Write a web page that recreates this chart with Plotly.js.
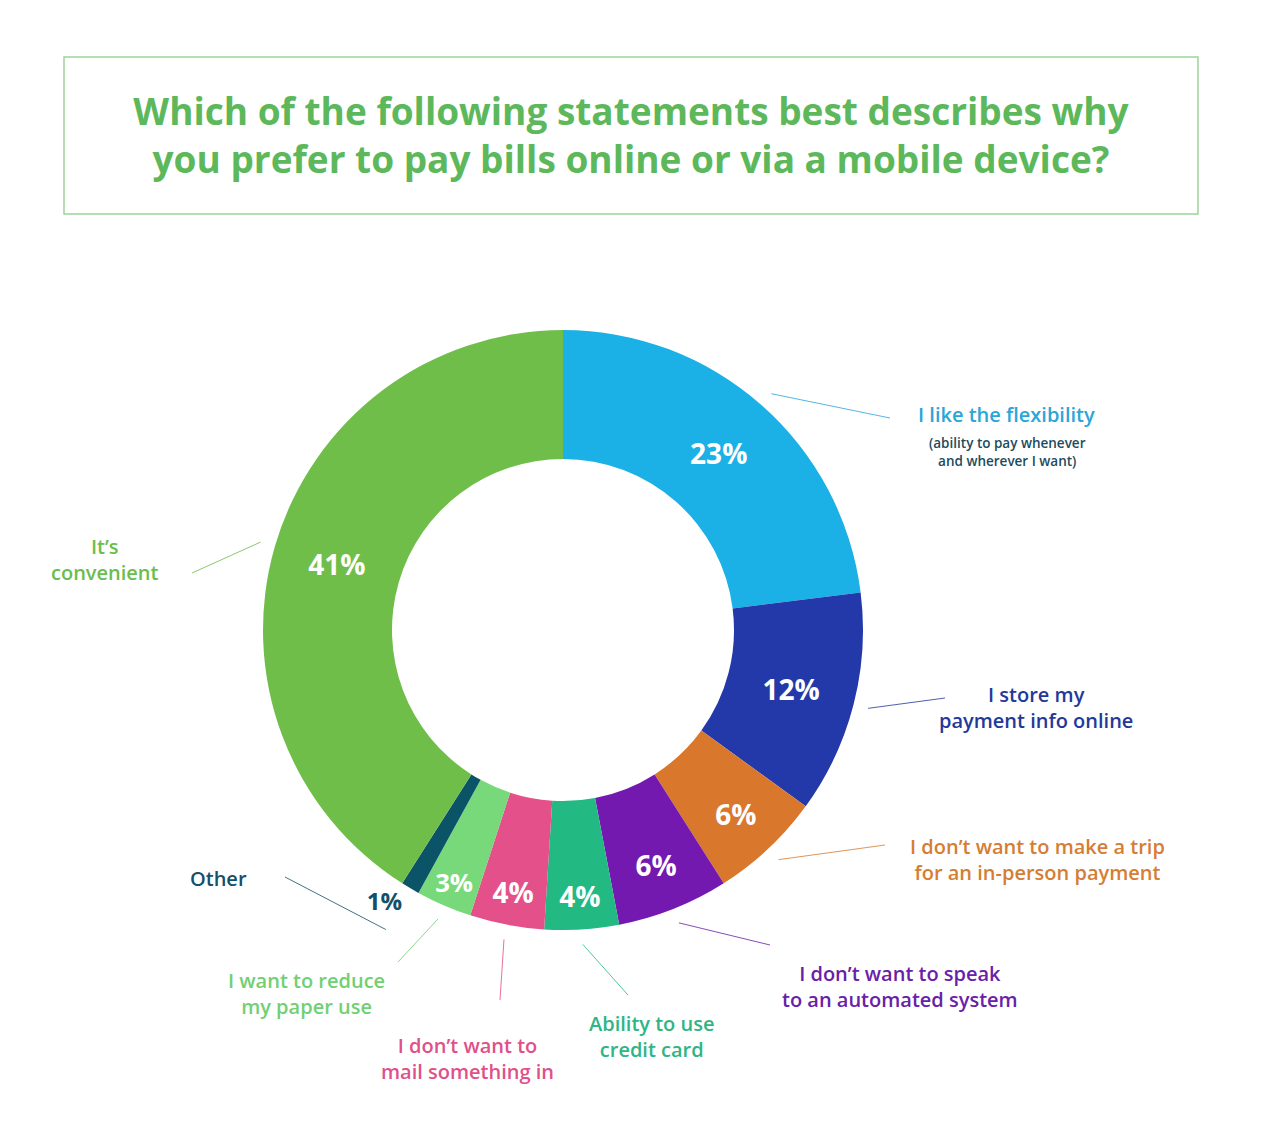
<!DOCTYPE html>
<html>
<head>
<meta charset="utf-8">
<script src="https://cdn.plot.ly/plotly-3.0.1.min.js"></script>
<style>
  body { margin: 0; background: #fff; }
  #plot-container { width: 1280px; height: 1145px; }
</style>
</head>
<body>
<div id="plot-container"></div>
<script>
// survey answers, clockwise from 12 o'clock
const categories = [
    'I like the flexibility',
    'I store my payment info online',
    'I don\u2019t want to make a trip for an in-person payment',
    'I don\u2019t want to speak to an automated system',
    'Ability to use credit card',
    'I don\u2019t want to mail something in',
    'I want to reduce my paper use',
    'Other',
    'It\u2019s convenient'
];
const shares = [23, 12, 6, 6, 4, 4, 3, 1, 41];

// text shown next to the ring (line breaks as in the infographic)
const callouts = [
    'I like the flexibility',
    'I store my<br>payment info online',
    'I don\u2019t want to make a trip<br>for an in-person payment',
    'I don\u2019t want to speak<br>to an automated system',
    'Ability to use<br>credit card',
    'I don\u2019t want to<br>mail something in',
    'I want to reduce<br>my paper use',
    'Other',
    'It\u2019s<br>convenient'
];
const flexNote = '(ability to pay whenever<br>and wherever I want)';
const question = 'Which of the following statements best describes why<br>you prefer to pay bills online or via a mobile device?';

const sliceColors = ['#1bb1e6', '#2339aa', '#d9772d', '#7419b0', '#22b982', '#e4508a', '#78d97a', '#0b5468', '#70be4a'];
const textColors  = ['#2aa6d8', '#23399a', '#d67d34', '#6a20a8', '#2eb585', '#e0508a', '#72cf72', '#13506a', '#6bbd4c'];
// the 1% slice is too thin for its number, so that one sits just outside the ring
const pctPlace = ['inside', 'inside', 'inside', 'inside', 'inside', 'inside', 'inside', 'outside', 'inside'];

// layout in page pixels
const W = 1280, H = 1145;
const CX = 563, CY = 630, R = 300;
const calloutPos = [[1006, 414], [1036, 707], [1037, 859], [900, 986], [652, 1036], [467, 1058], [306, 993], [218, 879], [105, 559]];
const lineEnds   = [[890, 418], [945, 698], [885, 845], [770, 945], [628, 995], [500, 1000], [398, 962], [285, 877], [192, 573]];

const px = x => x / W;
const py = y => 1 - y / H;
const FONT = '"Open Sans", Lato, sans-serif';

const pie = {
    type: 'pie',
    labels: categories,
    values: shares,
    sort: false,
    direction: 'clockwise',
    rotation: 0,
    hole: 0.57,
    marker: { colors: sliceColors, line: { width: 0 } },
    texttemplate: '%{value}%',
    textposition: pctPlace,
    insidetextorientation: 'horizontal',
    insidetextfont: { family: FONT, size: 28, color: '#ffffff', weight: 700 },
    outsidetextfont: { family: FONT, size: 24, color: textColors, weight: 700 },
    hoverinfo: 'label+value',
    showlegend: false,
    domain: { x: [px(CX - R), px(CX + R)], y: [py(CY + R), py(CY - R)] }
};

// leader lines: from just outside the middle of each slice to the callout
const shapes = [];
const total = shares.reduce((a, b) => a + b, 0);
let acc = 0;
shares.forEach((v, i) => {
    const mid = (acc + v / 2) / total * 2 * Math.PI;
    acc += v;
    const k = pctPlace[i] === 'outside' ? 1.16 : 1.05;
    const x0 = CX + k * R * Math.sin(mid);
    const y0 = CY - k * R * Math.cos(mid);
    shapes.push({
        type: 'line', xref: 'paper', yref: 'paper',
        x0: px(x0), y0: py(y0), x1: px(lineEnds[i][0]), y1: py(lineEnds[i][1]),
        line: { color: textColors[i], width: 1 }, opacity: 0.8
    });
});
shapes.push({
    type: 'rect', xref: 'paper', yref: 'paper',
    x0: px(64), y0: py(214), x1: px(1198), y1: py(57),
    line: { color: '#9ed49a', width: 1.5 }
});

const annotations = callouts.map((t, i) => ({
    text: t, xref: 'paper', yref: 'paper',
    x: px(calloutPos[i][0]), y: py(calloutPos[i][1]),
    xanchor: 'center', yanchor: 'middle', showarrow: false, align: 'center',
    font: { family: FONT, size: 20, color: textColors[i], weight: 600 }
}));
annotations.push({
    text: flexNote, xref: 'paper', yref: 'paper',
    x: px(1007), y: py(452), xanchor: 'center', yanchor: 'middle',
    showarrow: false, align: 'center',
    font: { family: FONT, size: 13.5, color: '#1d4b5c', weight: 600 }
});

const layout = {
    width: W,
    height: H,
    margin: { l: 0, r: 0, t: 0, b: 0 },
    paper_bgcolor: '#ffffff',
    title: {
        text: question,
        x: px(631), y: py(125), xanchor: 'center', yanchor: 'middle',
        font: { family: FONT, size: 37, color: '#5cb85a', weight: 700 }
    },
    shapes: shapes,
    annotations: annotations
};

Plotly.newPlot('plot-container', [pie], layout, { displayModeBar: false });
</script>
</body>
</html>
